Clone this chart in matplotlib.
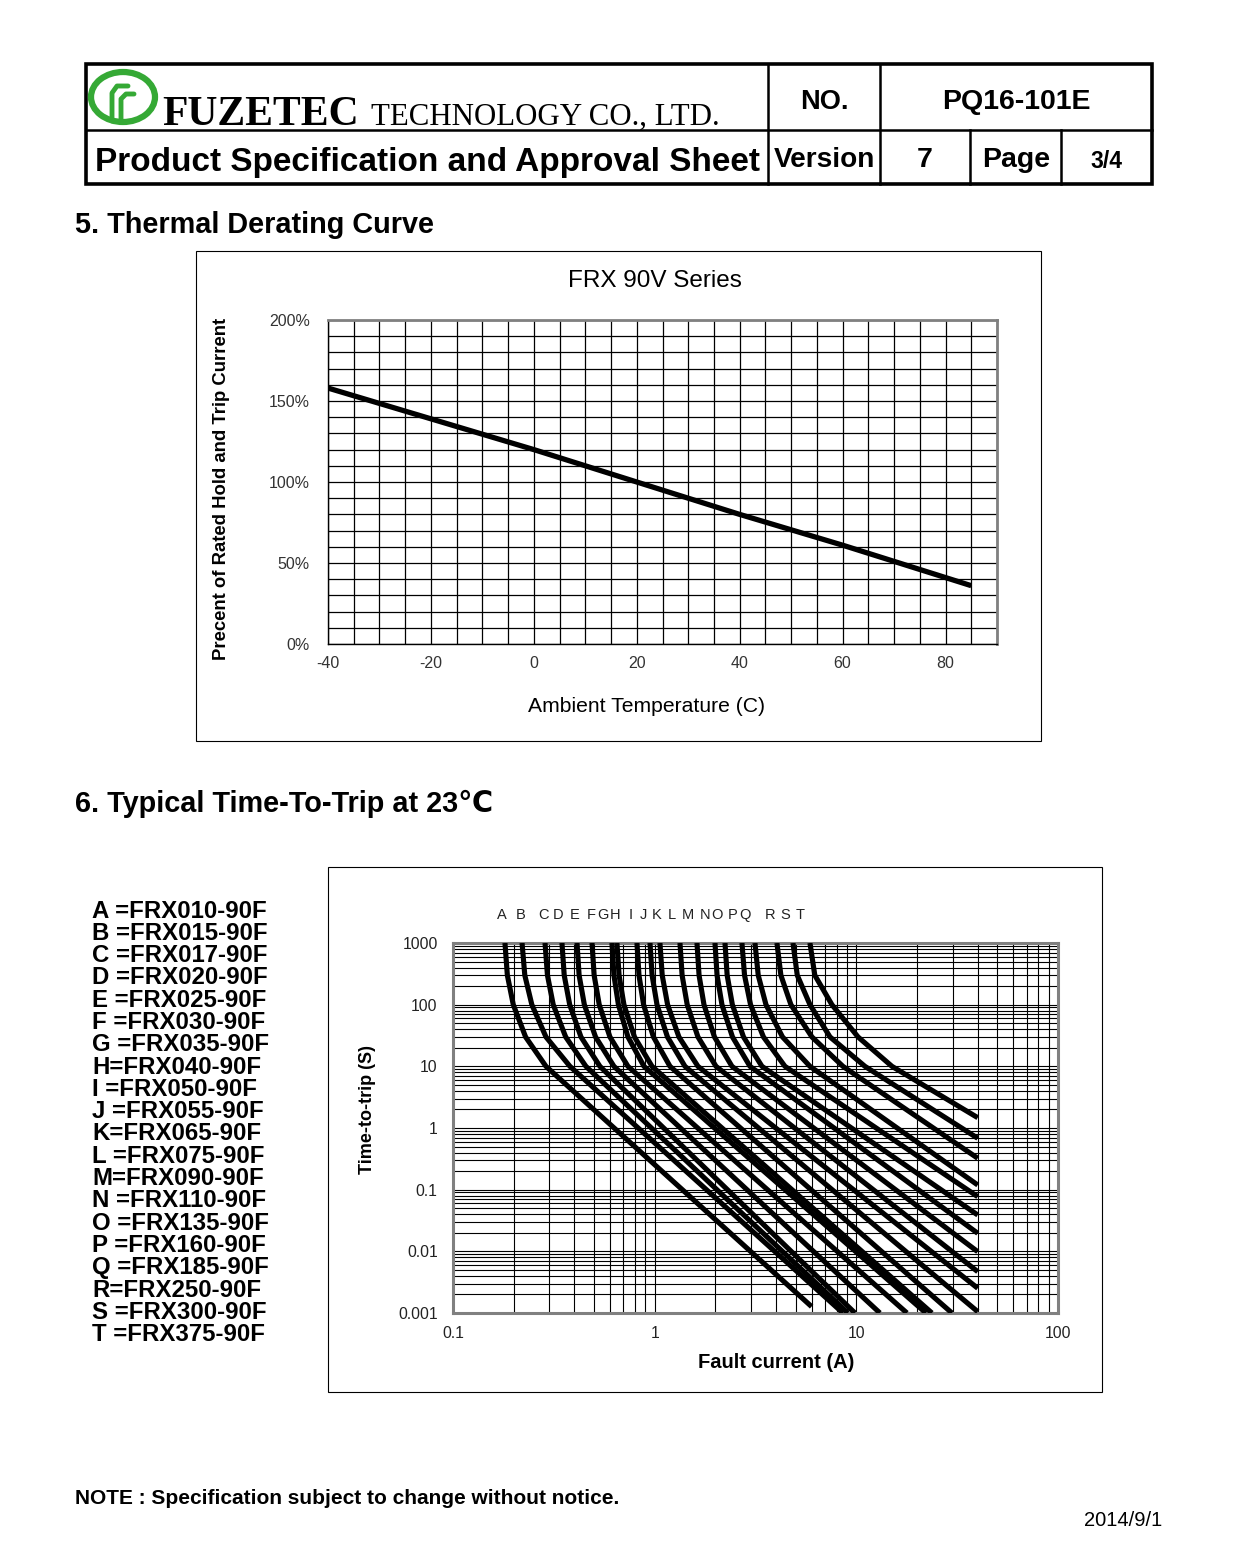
import numpy as np
import matplotlib
matplotlib.use('Agg')
import matplotlib.pyplot as plt
from matplotlib.patches import Rectangle, Ellipse
from matplotlib.ticker import LogLocator, NullFormatter, FixedLocator, MultipleLocator

plt.rcParams['font.family'] = ['Liberation Sans', 'DejaVu Sans']
plt.rcParams['axes.unicode_minus'] = False

W, H = 1241, 1567

# ---------------- data: thermal derating ----------------
temp_c = [-40, -20, 0, 20, 40, 60, 80, 85]
derate_pct = [158, 139, 120, 100, 80, 61, 41, 36]
derate_xticks = [-40, -20, 0, 20, 40, 60, 80]
derate_yticks = [0, 50, 100, 150, 200]
derate_ylabels = ['0%', '50%', '100%', '150%', '200%']

# ---------------- data: time-to-trip ----------------
part_letters = list("ABCDEFGHIJKLMNOPQRST")
legend_labels = ["A =FRX010-90F", "B =FRX015-90F", "C =FRX017-90F", "D =FRX020-90F",
                 "E =FRX025-90F", "F =FRX030-90F", "G =FRX035-90F", "H=FRX040-90F",
                 "I =FRX050-90F", "J =FRX055-90F", "K=FRX065-90F", "L =FRX075-90F",
                 "M=FRX090-90F", "N =FRX110-90F", "O =FRX135-90F", "P =FRX160-90F",
                 "Q =FRX185-90F", "R=FRX250-90F", "S =FRX300-90F", "T =FRX375-90F"]

# time levels (s) at which the current of each curve is read
time_levels = [1000, 300, 100, 30, 10]
cur_A = [0.181, 0.186, 0.199, 0.229, 0.289]
cur_B = [0.220, 0.227, 0.246, 0.289, 0.380]
cur_C = [0.286, 0.294, 0.314, 0.362, 0.456]
cur_D = [0.347, 0.356, 0.379, 0.431, 0.535]
cur_E = [0.412, 0.422, 0.448, 0.509, 0.628]
cur_F = [0.489, 0.501, 0.531, 0.600, 0.737]
cur_G = [0.614, 0.628, 0.661, 0.737, 0.885]
cur_H = [0.650, 0.666, 0.704, 0.794, 0.970]
cur_I = [0.817, 0.836, 0.881, 0.986, 1.191]
cur_J = [0.948, 0.971, 1.027, 1.157, 1.413]
cur_K = [1.062, 1.090, 1.159, 1.319, 1.639]
cur_L = [1.335, 1.368, 1.450, 1.639, 2.014]
cur_M = [1.621, 1.660, 1.756, 1.979, 2.417]
cur_N = [1.991, 2.039, 2.156, 2.431, 2.969]
cur_O = [2.232, 2.288, 2.428, 2.757, 3.404]
cur_P = [2.709, 2.790, 2.988, 3.462, 4.426]
cur_Q = [3.143, 3.262, 3.564, 4.303, 5.888]
cur_R = [4.039, 4.225, 4.738, 6.02, 8.58]
cur_S = [4.851, 5.094, 5.889, 7.40, 11.03]
cur_T = [5.888, 6.224, 7.566, 10.19, 15.02]
# end point of each curve (current A, time s)
end_current = [6.0, 8.58, 9.08, 9.84, 13.09, 17.82, 22.14, 23.70, 29.79,
               40, 40, 40, 40, 40, 40, 40, 40, 40, 40, 40]
end_time = [0.00127, 0.001, 0.001, 0.001, 0.001, 0.001, 0.001, 0.001, 0.001,
            0.00105, 0.00252, 0.00468, 0.00986, 0.0196, 0.0388, 0.0769, 0.119,
            0.323, 0.681, 1.47]
curve_currents = [cur_A, cur_B, cur_C, cur_D, cur_E, cur_F, cur_G, cur_H, cur_I, cur_J,
                  cur_K, cur_L, cur_M, cur_N, cur_O, cur_P, cur_Q, cur_R, cur_S, cur_T]
ttt_xticks = [0.1, 1, 10, 100]
ttt_xlabels = ['0.1', '1', '10', '100']
ttt_yticks = [0.001, 0.01, 0.1, 1, 10, 100, 1000]
ttt_ylabels = ['0.001', '0.01', '0.1', '1', '10', '100', '1000']

# style: horizontal nudge (pixels) of each letter label from its curve's top
letter_dx_px = [-3, -1, -2, -4, -2, -1, -9, -2, -6, -7, -3, -8, -9, -10, -8, -9, -10, -7, -8, -10]

# ---------------- figure ----------------
fig = plt.figure(figsize=(W / 100, H / 100), dpi=100)
ov = fig.add_axes([0, 0, 1, 1])
ov.set_xlim(0, W)
ov.set_ylim(H, 0)
ov.axis('off')


def fax(x0, y0, x1, y1):
    return [x0 / W, 1 - y1 / H, (x1 - x0) / W, (y1 - y0) / H]


# header table
ov.add_patch(Rectangle((86, 64), 1066, 120, fill=False, lw=2.6, ec='black'))
ov.plot([86, 1152], [130, 130], color='black', lw=1.8)
ov.plot([768, 768], [64, 184], color='black', lw=1.8)
ov.plot([880, 880], [64, 184], color='black', lw=1.8)
ov.plot([970, 970], [130, 184], color='black', lw=1.8)
ov.plot([1061, 1061], [130, 184], color='black', lw=1.8)

bold = dict(fontweight='bold')
ov.text(824, 102, 'NO.', ha='center', va='center', fontsize=19.5, **bold)
ov.text(1016, 102, 'PQ16-101E', ha='center', va='center', fontsize=20.5, **bold)
ov.text(824, 160, 'Version', ha='center', va='center', fontsize=20.2, **bold)
ov.text(925, 160, '7', ha='center', va='center', fontsize=20.5, **bold)
ov.text(1016, 160, 'Page', ha='center', va='center', fontsize=20.5, **bold)
ov.text(1106, 162, '3/4', ha='center', va='center', fontsize=16.5, **bold)
ov.text(95, 163, 'Product Specification and Approval Sheet', ha='left', va='center',
        fontsize=24.0, **bold)
ov.text(162, 125, 'FUZETEC', ha='left', va='baseline', fontsize=30,
        family='Liberation Serif', fontweight='bold')
ov.text(371, 125, 'TECHNOLOGY CO., LTD.', ha='left', va='baseline', fontsize=22.2,
        family='Liberation Serif')

# logo
green = '#35a935'
ov.add_patch(Ellipse((123, 97), 64, 50, fill=False, ec=green, lw=4.5))
ov.plot([112, 112, 117, 128], [121, 93, 86, 86], color=green, lw=3.5, solid_capstyle='round')
ov.plot([121, 121, 126, 134], [121, 99, 94, 94], color=green, lw=3.5, solid_capstyle='round')

# section headings
ov.text(75, 225, '5. Thermal Derating Curve', ha='left', va='center', fontsize=20.8, **bold)
ov.text(75, 804, '6. Typical Time-To-Trip at 23℃', ha='left', va='center', fontsize=20.8,
        fontweight='bold', family=['Liberation Sans', 'DejaVu Sans'])

# frames
ov.add_patch(Rectangle((195.5, 250.5), 845, 490, fill=False, lw=0.8, ec='black'))
ov.add_patch(Rectangle((327.5, 866.5), 774, 525, fill=False, lw=0.8, ec='black'))

# derating texts
ov.text(655, 281, 'FRX 90V Series', ha='center', va='center', fontsize=17.5)
ov.text(222, 489, 'Precent of Rated Hold and Trip Current', ha='center', va='center',
        rotation=90, fontsize=13.3, **bold)
ov.text(646, 707, 'Ambient Temperature (C)', ha='center', va='center', fontsize=15.2)

# time-to-trip texts
ov.text(367, 1110, 'Time-to-trip (S)', ha='center', va='center', rotation=90,
        fontsize=13, **bold)
ov.text(776, 1362, 'Fault current (A)', ha='center', va='center', fontsize=14.5, **bold)
for i, lab in enumerate(legend_labels):
    ov.text(92, 911 + i * 22.3, lab, ha='left', va='center', fontsize=17.3, **bold)

# footer
ov.text(75, 1498, 'NOTE : Specification subject to change without notice.', ha='left',
        va='center', fontsize=15.0, **bold)
ov.text(1162, 1520, '2014/9/1', ha='right', va='center', fontsize=14.5)

# ---------------- derating chart ----------------
ax1 = fig.add_axes(fax(328, 320, 997, 644))
ax1.set_xlim(-40, 90)
ax1.set_ylim(0, 200)
ax1.plot(temp_c, derate_pct, color='black', lw=3.8, solid_capstyle='butt', zorder=3)
ax1.xaxis.set_major_locator(FixedLocator(derate_xticks))
ax1.xaxis.set_minor_locator(MultipleLocator(5))
ax1.yaxis.set_major_locator(FixedLocator(derate_yticks))
ax1.yaxis.set_minor_locator(MultipleLocator(10))
ax1.set_yticklabels(derate_ylabels)
ax1.grid(which='both', color='black', lw=0.9)
ax1.set_axisbelow(True)
ax1.tick_params(which='both', length=0, labelsize=11.5, labelcolor='#333333')
ax1.tick_params(axis='x', pad=9)
ax1.tick_params(axis='y', pad=13)
for s in ['left', 'bottom']:
    ax1.spines[s].set_color('black')
    ax1.spines[s].set_linewidth(1.0)
for s in ['top', 'right']:
    ax1.spines[s].set_color('#808080')
    ax1.spines[s].set_linewidth(2.0)

# ---------------- time-to-trip chart ----------------
ax2 = fig.add_axes(fax(453, 943, 1058, 1313))
ax2.set_xscale('log')
ax2.set_yscale('log')
ax2.set_xlim(0.1, 100)
ax2.set_ylim(0.001, 1000)
for i, cur in enumerate(curve_currents):
    xs = list(cur) + [end_current[i]]
    ys = list(time_levels) + [end_time[i]]
    ax2.plot(xs, ys, color='black', lw=3.7, solid_capstyle='butt',
             solid_joinstyle='round', zorder=3)
    ax2.annotate(part_letters[i], xy=(cur[0], 1), xycoords=('data', 'axes fraction'),
                 xytext=(letter_dx_px[i] * 0.72, 20), textcoords='offset points',
                 ha='center', va='center', fontsize=10.5, color='#222222',
                 annotation_clip=False)
ax2.xaxis.set_major_locator(FixedLocator(ttt_xticks))
ax2.yaxis.set_major_locator(FixedLocator(ttt_yticks))
ax2.set_xticklabels(ttt_xlabels)
ax2.set_yticklabels(ttt_ylabels)
ax2.xaxis.set_minor_locator(LogLocator(base=10, subs=np.arange(2, 10), numticks=50))
ax2.yaxis.set_minor_locator(LogLocator(base=10, subs=np.arange(2, 10), numticks=50))
ax2.xaxis.set_minor_formatter(NullFormatter())
ax2.yaxis.set_minor_formatter(NullFormatter())
ax2.grid(which='both', color='black', lw=0.8)
ax2.set_axisbelow(True)
ax2.tick_params(which='both', length=0, labelsize=11.3, labelcolor='#222222')
ax2.tick_params(axis='x', pad=9.5)
ax2.tick_params(axis='y', pad=11)
for s in ax2.spines.values():
    s.set_color('#808080')
    s.set_linewidth(2.2)

fig.savefig('out.png', dpi=100)
